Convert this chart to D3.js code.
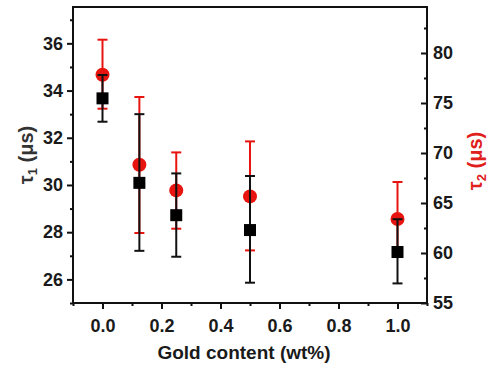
<!DOCTYPE html>
<html>
<head>
<meta charset="utf-8">
<script src="https://cdn.jsdelivr.net/npm/d3@7"></script>
<style>
  body { margin: 0; background: #fff; }
  svg text { font-family: "Liberation Sans", Arial, sans-serif; font-weight: bold; }
</style>
</head>
<body>
<div id="chart"></div>
<script>
// gold content (wt%)
var gold = [0, 0.125, 0.25, 0.5, 1.0]
// tau1 (left axis), black squares
var tau1 = [33.67, 30.09, 28.72, 28.09, 27.16]
var tau1Hi = [34.66, 33.0, 30.49, 30.38, 28.55]
var tau1Lo = [32.68, 27.21, 26.96, 25.86, 25.83]
// tau2 (right axis), red circles
var tau2 = [77.83, 68.83, 66.26, 65.66, 63.4]
var tau2Hi = [81.33, 75.6, 70.06, 71.16, 67.1]
var tau2Lo = [74.43, 62.0, 62.43, 60.26, 59.7]
// ticks
var xTicks = [0, 0.2, 0.4, 0.6, 0.8, 1.0]
var xMinor = [-0.1, 0.1, 0.3, 0.5, 0.7, 0.9, 1.1]
var y1Ticks = [26, 28, 30, 32, 34, 36]
var y1Minor = [25, 27, 29, 31, 33, 35, 37]
var y2Ticks = [55, 60, 65, 70, 75, 80]
var y2Minor = [57.5, 62.5, 67.5, 72.5, 77.5, 82.5]

var width = 490
var height = 370
var pLeft = 73, pRight = 427, pTop = 7, pBottom = 303

var svg = d3.select('#chart').append('svg')
    .attr('width', width)
    .attr('height', height)

var X = d3.scaleLinear().domain([-0.1, 1.1]).range([pLeft, pRight])
var Y1 = d3.scaleLinear().domain([25, 37.54]).range([pBottom, pTop])
var Y2 = d3.scaleLinear().domain([55, 84.6]).range([pBottom, pTop])

function styleAxis(g) {
    g.select('.domain').remove()
    g.selectAll('line').attr('stroke', '#111').attr('stroke-width', 2)
    g.selectAll('text').attr('fill', '#1a1a1a').attr('font-size', 18)
}

// x axis
svg.append('g').attr('transform', 'translate(0,' + pBottom + ')')
    .call(d3.axisBottom(X).tickValues(xTicks).tickSize(6).tickPadding(10)
        .tickFormat(d3.format('.1f')))
    .call(styleAxis)
svg.append('g').attr('transform', 'translate(0,' + pBottom + ')')
    .call(d3.axisBottom(X).tickValues(xMinor).tickSize(3).tickFormat(''))
    .call(styleAxis)

// left axis
svg.append('g').attr('transform', 'translate(' + pLeft + ',0)')
    .call(d3.axisLeft(Y1).tickValues(y1Ticks).tickSize(6).tickPadding(4))
    .call(styleAxis)
svg.append('g').attr('transform', 'translate(' + pLeft + ',0)')
    .call(d3.axisLeft(Y1).tickValues(y1Minor).tickSize(3).tickFormat(''))
    .call(styleAxis)

// right axis, ticks point inward
svg.append('g').attr('transform', 'translate(' + pRight + ',0)')
    .call(d3.axisRight(Y2).tickValues(y2Ticks).tickSizeInner(-6).tickSizeOuter(0).tickPadding(6))
    .call(styleAxis)
svg.append('g').attr('transform', 'translate(' + pRight + ',0)')
    .call(d3.axisRight(Y2).tickValues(y2Minor).tickSizeInner(-3).tickSizeOuter(0).tickFormat(''))
    .call(styleAxis)

// frame
svg.append('rect')
    .attr('x', pLeft).attr('y', pTop)
    .attr('width', pRight - pLeft).attr('height', pBottom - pTop)
    .attr('fill', 'none').attr('stroke', '#111').attr('stroke-width', 2)

// axis titles
svg.append('text')
    .attr('x', 244).attr('y', 359)
    .attr('text-anchor', 'middle').attr('font-size', 19).attr('fill', '#1a1a1a')
    .text('Gold content (wt%)')

var t1 = svg.append('text')
    .attr('transform', 'translate(33,155) rotate(-90)')
    .attr('text-anchor', 'middle').attr('font-size', 20).attr('fill', '#333')
t1.append('tspan').text('τ')
t1.append('tspan').attr('font-size', 13).attr('dy', 4).text('1')
t1.append('tspan').attr('dy', -4).text(' (μs)')

var t2 = svg.append('text')
    .attr('transform', 'translate(482,161) rotate(-90)')
    .attr('text-anchor', 'middle').attr('font-size', 20).attr('fill', '#e0201c')
t2.append('tspan').text('τ')
t2.append('tspan').attr('font-size', 13).attr('dy', 4).text('2')
t2.append('tspan').attr('dy', -4).text(' (μs)')

// error bars
function errorBars(lo, hi, Y, color) {
    var g = svg.append('g')
    var d = gold.map(function (x, i) { return { x: x, lo: lo[i], hi: hi[i] } })
    g.selectAll('line.v').data(d).enter().append('line')
        .attr('x1', function (d) { return X(d.x) })
        .attr('x2', function (d) { return X(d.x) })
        .attr('y1', function (d) { return Y(d.lo) })
        .attr('y2', function (d) { return Y(d.hi) })
        .attr('stroke', color).attr('stroke-width', 2)
    ;['lo', 'hi'].forEach(function (k) {
        g.selectAll('line.' + k).data(d).enter().append('line')
            .attr('x1', function (d) { return X(d.x) - 5 })
            .attr('x2', function (d) { return X(d.x) + 5 })
            .attr('y1', function (d) { return Y(d[k]) })
            .attr('y2', function (d) { return Y(d[k]) })
            .attr('stroke', color).attr('stroke-width', 2)
    })
}

errorBars(tau2Lo, tau2Hi, Y2, '#e8140f')
svg.append('g').selectAll('circle').data(tau2).enter().append('circle')
    .attr('cx', function (d, i) { return X(gold[i]) })
    .attr('cy', function (d) { return Y2(d) })
    .attr('r', 7)
    .attr('fill', '#e8140f')

errorBars(tau1Lo, tau1Hi, Y1, '#111')
svg.append('g').selectAll('rect').data(tau1).enter().append('rect')
    .attr('x', function (d, i) { return X(gold[i]) - 6 })
    .attr('y', function (d) { return Y1(d) - 6 })
    .attr('width', 12).attr('height', 12)
    .attr('fill', '#000')
</script>
</body>
</html>
